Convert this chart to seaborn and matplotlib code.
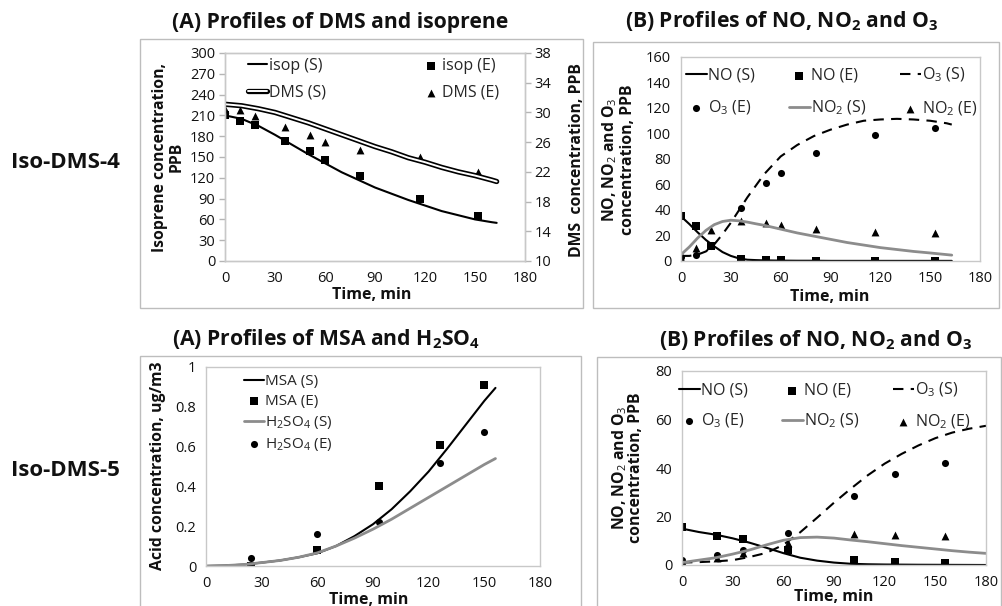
import numpy as np
import pandas as pd
import matplotlib
matplotlib.use("Agg")
import matplotlib.pyplot as plt
import matplotlib.patheffects as pe
from matplotlib.patches import Rectangle
import seaborn as sns

# ---------------- Data ----------------
# Iso-DMS-4, panel A (isoprene left axis, DMS right axis)
a1_exp_time = [0, 9, 18, 36, 51, 60, 81, 117, 152]
a1_isop_exp = [210, 202, 196, 173, 158, 145, 123, 90, 65]
a1_dms_exp = [30.5, 30.3, 29.5, 28.0, 27.0, 26.0, 25.0, 24.0, 22.0]
a1_sim_time = [0, 10, 20, 30, 40, 50, 60, 70, 80, 90, 100, 110, 120, 130, 140, 150, 160, 163]
a1_isop_sim = [210, 205, 195, 182, 168, 154, 141, 128, 117, 106, 97, 88, 80, 72, 66, 60, 56, 55]
a1_dms_sim = [31.1, 30.9, 30.5, 30.0, 29.3, 28.6, 27.8, 27.0, 26.2, 25.4, 24.7, 23.9, 23.3,
              22.6, 22.0, 21.5, 20.9, 20.7]

# Iso-DMS-4, panel B
b1_exp_time = [0, 9, 18, 36, 51, 60, 81, 117, 153]
b1_no_exp = [35.3, 27.7, 11.8, 1.3, 0.8, 0.5, 0.3, 0.3, 0.0]
b1_o3_exp = [3.4, 4.7, 12.0, 41.3, 60.9, 69.3, 84.4, 98.8, 104.6]
b1_no2_exp = [2.6, 10.0, 24.3, 31.4, 29.5, 28.2, 24.8, 23.0, 21.7]
b1_sim_time = [0, 5, 10, 15, 20, 25, 30, 35, 40, 45, 50, 55, 60, 70, 80, 90, 100, 110, 120,
               130, 140, 150, 160, 163]
b1_no_sim = [35, 29, 22.5, 16.5, 11.5, 7, 4, 2, 1, 0.7, 0.5, 0.4, 0.3, 0.2, 0.2, 0.1, 0.1,
             0.1, 0.1, 0.1, 0.1, 0.1, 0.1, 0.1]
b1_o3_sim = [4, 4, 5, 7.5, 13, 21, 30, 40, 50, 59, 68, 75, 82, 91, 98, 103, 107, 110, 111,
             111.5, 111, 110, 108, 107]
b1_no2_sim = [5, 11, 18, 24, 28.5, 31, 32, 31.5, 30.5, 29.2, 28, 26.5, 25, 22, 19.5, 17,
              14.5, 12.5, 10.5, 9, 7.5, 6.3, 5, 4.6]

# Iso-DMS-5, panel A
a2_exp_time = [24, 60, 93, 126, 150]
a2_msa_exp = [0.0, 0.08, 0.40, 0.61, 0.91]
a2_h2so4_exp = [0.04, 0.16, 0.22, 0.52, 0.675]
a2_sim_time = [0, 10, 20, 30, 40, 50, 60, 70, 80, 90, 100, 110, 120, 130, 140, 150, 156]
a2_msa_sim = [0, 0.002, 0.007, 0.017, 0.028, 0.044, 0.064, 0.10, 0.15, 0.21, 0.285, 0.375,
              0.475, 0.59, 0.71, 0.83, 0.895]
a2_h2so4_sim = [0, 0.002, 0.007, 0.017, 0.028, 0.044, 0.066, 0.10, 0.14, 0.185, 0.235, 0.29,
                0.345, 0.40, 0.455, 0.51, 0.54]

# Iso-DMS-5, panel B
b2_exp_time = [0, 21, 36, 63, 102, 126, 156]
b2_no_exp = [15.6, 12.1, 10.6, 6.2, 2.1, 1.4, 0.7]
b2_o3_exp = [2.1, 4.1, 6.2, 13.1, 28.6, 37.5, 42.0]
b2_no2_exp = [1.5, 3.0, 4.8, 9.0, 12.7, 12.2, 12.0]
b2_sim_time = [0, 10, 20, 30, 40, 50, 60, 70, 80, 90, 100, 110, 120, 130, 140, 150, 160, 170, 180]
b2_no_sim = [15, 13.6, 12.5, 11, 9.2, 7.1, 4.9, 3.0, 1.8, 1.0, 0.5, 0.3, 0.2, 0.15, 0.1, 0.08,
             0.05, 0.03, 0.0]
b2_o3_sim = [1, 1.2, 1.5, 2, 3.3, 5, 8.3, 13.5, 19.5, 25.7, 31.5, 37, 41.8, 45.8, 49.3, 52.3,
             54.6, 56.2, 57.4]
b2_no2_sim = [1, 2, 3, 4.5, 6.2, 8.3, 10.2, 11.3, 11.5, 11.1, 10.3, 9.6, 8.8, 8.0, 7.3, 6.6,
              5.9, 5.3, 4.8]

time_ticks = [0, 30, 60, 90, 120, 150, 180]

# ---------------- Style ----------------
sns.set_style("white")
FONT = "Open Sans"
plt.rcParams["font.family"] = [FONT, "DejaVu Sans"]
plt.rcParams["mathtext.fontset"] = "custom"
plt.rcParams["mathtext.rm"] = FONT
plt.rcParams["mathtext.it"] = FONT + ":italic"
plt.rcParams["mathtext.bf"] = FONT + ":bold"

W, H = 1002, 606
fig = plt.figure(figsize=(W / 100, H / 100), dpi=100)
fig.patch.set_facecolor("white")

SPINE = "#C8C8C8"
FRAME = "#BDBDBD"
GRAY = "#8C8C8C"
TXT = "#111111"


def rect(x0, y0, x1, y1):
    return [x0 / W, 1 - y1 / H, (x1 - x0) / W, (y1 - y0) / H]


def fx(x):
    return x / W


def fy(y):
    return 1 - y / H


def style(ax, ylim, yticks):
    ax.set_xlim(0, 180)
    ax.set_xticks(time_ticks)
    ax.set_ylim(*ylim)
    ax.set_yticks(yticks)
    for s in ax.spines.values():
        s.set_color(SPINE)
        s.set_linewidth(1)
    ax.tick_params(direction="out", length=4, width=1, color="#B5B5B5",
                   labelsize=10.5, labelcolor=TXT, pad=3)
    ax.set_xlabel("")
    ax.set_ylabel("")
    ax.set_facecolor("none")


def frame(x0, y0, x1, y1):
    fig.add_artist(Rectangle((fx(x0), fy(y1)), (x1 - x0) / W, (y1 - y0) / H,
                             transform=fig.transFigure, fill=False,
                             edgecolor=FRAME, linewidth=1))


frame(140, 39, 583, 308)
frame(593, 42, 999, 308)
frame(140, 356, 581, 612)
frame(597, 357, 1001, 612)

LW = 1.5
dash = (0, (5, 3.5))


def line(ax, x, y, label, **kw):
    df = pd.DataFrame({"t": x, "v": y})
    sns.lineplot(data=df, x="t", y="v", ax=ax, label=label, sort=False,
                 estimator=None, legend=False, **kw)


def pts(ax, x, y, label, marker, s, color="black"):
    df = pd.DataFrame({"t": x, "v": y})
    sns.scatterplot(data=df, x="t", y="v", ax=ax, label=label, marker=marker, s=s,
                    color=color, linewidth=0, legend=False)


LEGFS = 11.5

# ---------- Panel A1 ----------
ax = fig.add_axes(rect(225, 53, 525, 261))
ax2 = ax.twinx()
line(ax, a1_sim_time, a1_isop_sim, "isop (S)", color="black", linewidth=LW)
pts(ax, a1_exp_time, a1_isop_exp, "isop (E)", "s", 30)
line(ax2, a1_sim_time, a1_dms_sim, "DMS (S)", color="white", linewidth=1.4,
     path_effects=[pe.Stroke(linewidth=3.8, foreground="black"), pe.Normal()])
pts(ax2, a1_exp_time, a1_dms_exp, "DMS (E)", "^", 32)
style(ax, (0, 300), list(range(0, 301, 30)))
style(ax2, (10, 38), list(range(10, 39, 4)))
h1, l1 = ax.get_legend_handles_labels()
h2, l2 = ax2.get_legend_handles_labels()
hd = dict(zip(l1 + l2, h1 + h2))
order = ["isop (S)", "DMS (S)", "isop (E)", "DMS (E)"]
ax2.legend([hd[k] for k in order], order, ncol=2, loc="upper left",
           bbox_to_anchor=(fx(248), fy(58)), bbox_transform=fig.transFigure,
           frameon=False, fontsize=LEGFS, handlelength=1.2, handletextpad=0.1,
           columnspacing=6.0, labelspacing=0.68, borderpad=0, borderaxespad=0)

# ---------- Panel B1 ----------
bx = fig.add_axes(rect(681, 57, 980, 261))
line(bx, b1_sim_time, b1_no_sim, "NO (S)", color="black", linewidth=LW)
line(bx, b1_sim_time, b1_o3_sim, "O$_3$ (S)", color="black", linewidth=LW, linestyle=dash)
line(bx, b1_sim_time, b1_no2_sim, "NO$_2$ (S)", color=GRAY, linewidth=2)
pts(bx, b1_exp_time, b1_no_exp, "NO (E)", "s", 30)
pts(bx, b1_exp_time, b1_o3_exp, "O$_3$ (E)", "o", 26)
pts(bx, b1_exp_time, b1_no2_exp, "NO$_2$ (E)", "^", 32)
style(bx, (0, 160), list(range(0, 161, 20)))
hb, lb = bx.get_legend_handles_labels()
hd = dict(zip(lb, hb))
order = ["NO (S)", "O$_3$ (E)", "NO (E)", "NO$_2$ (S)", "O$_3$ (S)", "NO$_2$ (E)"]
bx.legend([hd[k] for k in order], order, ncol=3, loc="upper left",
          bbox_to_anchor=(fx(686), fy(66)), bbox_transform=fig.transFigure,
          frameon=False, fontsize=LEGFS, handlelength=1.3, handletextpad=0.1,
          columnspacing=2.1, labelspacing=0.95, borderpad=0, borderaxespad=0)

# ---------- Panel A2 ----------
cx = fig.add_axes(rect(206, 367, 540, 566))
line(cx, a2_sim_time, a2_msa_sim, "MSA (S)", color="black", linewidth=LW)
pts(cx, a2_exp_time, a2_msa_exp, "MSA (E)", "s", 30)
line(cx, a2_sim_time, a2_h2so4_sim, "H$_2$SO$_4$ (S)", color=GRAY, linewidth=2)
pts(cx, a2_exp_time, a2_h2so4_exp, "H$_2$SO$_4$ (E)", "o", 26)
style(cx, (0, 1), [0, 0.2, 0.4, 0.6, 0.8, 1])
cx.set_yticklabels(["0", "0.2", "0.4", "0.6", "0.8", "1"])
cx.legend(loc="upper left", bbox_to_anchor=(fx(244), fy(374)), bbox_transform=fig.transFigure,
          frameon=False, fontsize=11, handlelength=1.3, handletextpad=0.1,
          labelspacing=0.33, borderpad=0, borderaxespad=0)

# ---------- Panel B2 ----------
dx = fig.add_axes(rect(682, 371, 986, 565))
line(dx, b2_sim_time, b2_no_sim, "NO (S)", color="black", linewidth=LW)
line(dx, b2_sim_time, b2_o3_sim, "O$_3$ (S)", color="black", linewidth=LW, linestyle=dash)
line(dx, b2_sim_time, b2_no2_sim, "NO$_2$ (S)", color=GRAY, linewidth=2)
pts(dx, b2_exp_time, b2_no_exp, "NO (E)", "s", 30)
pts(dx, b2_exp_time, b2_o3_exp, "O$_3$ (E)", "o", 26)
pts(dx, b2_exp_time, b2_no2_exp, "NO$_2$ (E)", "^", 32)
style(dx, (0, 80), [0, 20, 40, 60, 80])
hb, lb = dx.get_legend_handles_labels()
hd = dict(zip(lb, hb))
dx.legend([hd[k] for k in order], order, ncol=3, loc="upper left",
          bbox_to_anchor=(fx(679), fy(381)), bbox_transform=fig.transFigure,
          frameon=False, fontsize=LEGFS, handlelength=1.3, handletextpad=0.1,
          columnspacing=2.1, labelspacing=0.8, borderpad=0, borderaxespad=0)

# ---------- Texts ----------
tkw = dict(fontsize=15.2, fontweight="bold", color=TXT, ha="center", va="baseline")
fig.text(fx(340), fy(28), "(A) Profiles of DMS and isoprene", **tkw)
fig.text(fx(781), fy(27), r"(B) Profiles of NO, NO$_\mathbf{2}$ and O$_\mathbf{3}$", **tkw)
fig.text(fx(326), fy(345), r"(A) Profiles of MSA and H$_\mathbf{2}$SO$_\mathbf{4}$", **tkw)
fig.text(fx(815), fy(346), r"(B) Profiles of NO, NO$_\mathbf{2}$ and O$_\mathbf{3}$", **tkw)

rkw = dict(fontsize=16, fontweight="bold", color=TXT, ha="center", va="center")
fig.text(fx(65), fy(163), "Iso-DMS-4", **rkw)
fig.text(fx(65), fy(470), "Iso-DMS-5", **rkw)

lkw = dict(fontsize=11.3, fontweight="bold", color=TXT, ha="center", va="center")
fig.text(fx(168), fy(157), "Isoprene concentration,\nPPB", rotation=90,
         multialignment="center", linespacing=1.05, **lkw)
fig.text(fx(577), fy(160), "DMS  concentration, PPB", rotation=90, **lkw)
fig.text(fx(618), fy(160), "NO, NO$_2$ and O$_3$\nconcentration, PPB", rotation=90,
         multialignment="center", linespacing=1.1, **lkw)
fig.text(fx(158), fy(466), "Acid concentration, ug/m3", rotation=90, **lkw)
fig.text(fx(627), fy(468), "NO, NO$_2$ and O$_3$\nconcentration, PPB", rotation=90,
         multialignment="center", linespacing=0.95, **lkw)

xkw = dict(fontsize=11.5, fontweight="bold", color=TXT, ha="center", va="center")
fig.text(fx(372), fy(295), "Time, min", **xkw)
fig.text(fx(830), fy(297), "Time, min", **xkw)
fig.text(fx(369), fy(600), "Time, min", **xkw)
fig.text(fx(834), fy(597), "Time, min", **xkw)

fig.savefig("out.png", dpi=100, facecolor="white")
